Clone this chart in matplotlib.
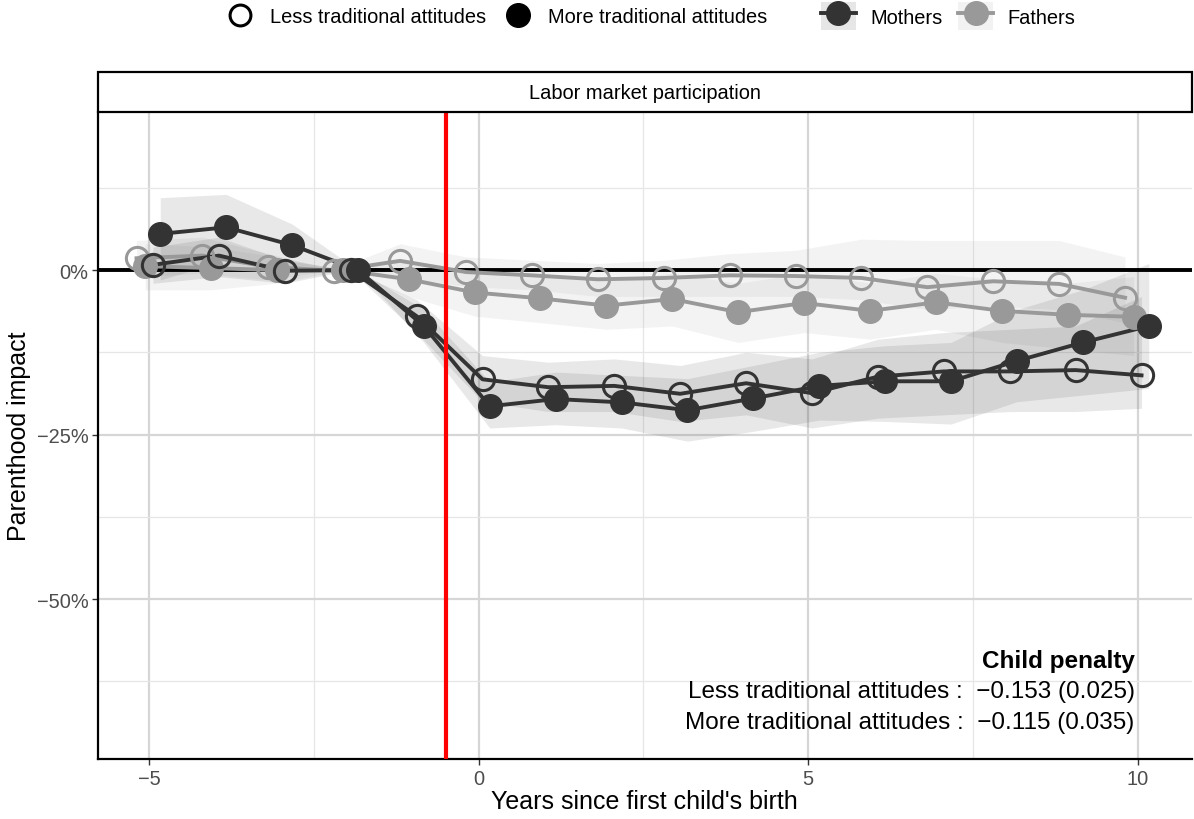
import numpy as np
import matplotlib.pyplot as plt
from matplotlib.lines import Line2D
from matplotlib.patches import Patch, Rectangle
from matplotlib.legend_handler import HandlerTuple
from matplotlib.ticker import FuncFormatter

plt.rcParams['font.family'] = ['Liberation Sans', 'DejaVu Sans']

# data (percent)
years = np.arange(-5, 11)

moth_less = [0.8, 2.2, -0.1, 0.0, -7.0, -16.6, -17.8, -17.6, -18.8, -17.2, -18.7, -16.2, -15.4, -15.4, -15.2, -16.0]
moth_less_lo = [-2.0, -1.0, -2.0, 0.0, -9.5, -20.0, -21.5, -21.5, -23.0, -22.0, -24.0, -22.5, -22.0, -21.5, -21.5, -21.0]
moth_less_hi = [3.5, 5.0, 1.5, 0.0, -4.5, -13.0, -14.0, -13.5, -14.5, -12.5, -13.5, -10.5, -9.5, -9.0, -8.5, -4.0]

moth_more = [5.5, 6.5, 3.8, 0.0, -8.5, -20.7, -19.6, -20.1, -21.3, -19.5, -17.6, -16.9, -16.9, -13.8, -11.0, -8.5]
moth_more_lo = [-1.5, 1.5, 0.5, 0.0, -11.0, -24.0, -23.5, -24.0, -26.0, -24.5, -22.8, -23.0, -23.4, -20.0, -19.0, -18.0]
moth_more_hi = [11.0, 11.5, 7.0, 0.0, -6.0, -17.0, -15.5, -16.0, -16.5, -14.5, -12.5, -11.5, -11.0, -6.0, -3.0, 1.0]

fath_less = [1.8, 2.2, 0.5, -0.1, 1.4, -0.3, -0.8, -1.4, -1.2, -0.8, -0.9, -1.2, -2.6, -1.7, -2.1, -4.2]
fath_less_lo = [-1.0, -0.5, -1.5, 0.0, -1.0, -2.5, -3.0, -4.0, -4.0, -4.0, -4.0, -4.5, -6.0, -5.5, -6.0, -8.0]
fath_less_hi = [4.5, 5.0, 2.5, 0.0, 4.0, 2.0, 1.5, 1.0, 1.5, 2.5, 3.0, 4.7, 4.5, 4.5, 4.5, 2.0]

fath_more = [0.6, 0.3, 0.0, 0.0, -1.4, -3.4, -4.3, -5.4, -4.4, -6.4, -5.0, -6.2, -4.9, -6.2, -6.8, -7.1]
fath_more_lo = [-3.0, -3.0, -2.0, 0.0, -4.0, -7.0, -8.0, -9.0, -8.5, -11.0, -9.5, -10.5, -9.0, -11.0, -12.0, -13.0]
fath_more_hi = [4.0, 3.5, 2.0, 0.0, 1.5, 0.0, -0.5, -1.5, -0.5, -2.0, -0.5, -2.0, -0.5, -1.5, -2.0, -1.0]

penalty_less = "Less traditional attitudes :  \u22120.153 (0.025)"
penalty_more = "More traditional attitudes :  \u22120.115 (0.035)"

c_moth = '#333333'
c_fath = '#999999'

fig = plt.figure(figsize=(11.94, 8.2), dpi=100)
ax = fig.add_axes([0.0821, 0.0732, 0.9159, 0.7888])

series = [
    (fath_less, fath_less_lo, fath_less_hi, -0.19, c_fath, False),
    (fath_more, fath_more_lo, fath_more_hi, -0.06, c_fath, True),
    (moth_less, moth_less_lo, moth_less_hi, 0.06, c_moth, False),
    (moth_more, moth_more_lo, moth_more_hi, 0.17, c_moth, True),
]

for y, lo, hi, off, col, filled in series:
    x = years + off
    ax.fill_between(x, np.array(lo) / 100, np.array(hi) / 100, color=col, alpha=0.11, lw=0, zorder=1)

ax.axhline(0, color='black', lw=2.8, zorder=2)

for y, lo, hi, off, col, filled in series:
    x = years + off
    y = np.array(y) / 100
    ax.plot(x, y, color=col, lw=2.8, zorder=3)
    if filled:
        ax.plot(x, y, 'o', color=col, ms=17, mec=col, zorder=4)
    else:
        ax.plot(x, y, 'o', mfc='none', mec=col, ms=16, mew=2.2, zorder=4)

ax.axvline(-0.5, color='red', lw=3, zorder=5)

ax.set_xlim(-5.774, 10.82)
ax.set_ylim(-0.743, 0.24)
ax.set_xticks([-5, 0, 5, 10])
ax.set_xticks([-2.5, 2.5, 7.5], minor=True)
ax.set_yticks([-0.5, -0.25, 0])
ax.set_yticks([-0.625, -0.375, -0.125, 0.125], minor=True)
ax.yaxis.set_major_formatter(FuncFormatter(lambda v, p: f"{v*100:.0f}%".replace('-', '\u2212')))
ax.xaxis.set_major_formatter(FuncFormatter(lambda v, p: f"{v:.0f}".replace('-', '\u2212')))
ax.grid(which='major', color='#d6d6d6', lw=1.6, zorder=0)
ax.grid(which='minor', color='#e6e6e6', lw=0.9, zorder=0)
ax.set_axisbelow(True)
ax.tick_params(which='major', length=4, color='#333333', labelsize=14.4, labelcolor='#4d4d4d',
               width=1, pad=3)
ax.tick_params(which='minor', length=0)
for s in ['top', 'right']:
    ax.spines[s].set_visible(False)
for s in ['left', 'bottom']:
    ax.spines[s].set_linewidth(1.6)
ax.set_xlabel("Years since first child's birth", fontsize=18, labelpad=1)
ax.set_ylabel("Parenthood impact", fontsize=18, labelpad=4)

# facet strip
strip = Rectangle((0.0821, 0.862), 0.9159, 0.0488, transform=fig.transFigure,
                  facecolor='white', edgecolor='black', lw=1.6)
fig.patches.append(strip)
fig.text(0.0821 + 0.9159 / 2, 0.862 + 0.0244, "Labor market participation",
         ha='center', va='center', fontsize=14.4)

# child penalty annotation
ax.text(0.948, 0.153, "Child penalty", transform=ax.transAxes, ha='right', va='center',
        fontsize=17.5, fontweight='bold')
ax.text(0.948, 0.105, penalty_less, transform=ax.transAxes, ha='right', va='center', fontsize=17.5)
ax.text(0.948, 0.057, penalty_more, transform=ax.transAxes, ha='right', va='center', fontsize=17.5)

# legends
h1 = [Line2D([], [], ls='none', marker='o', ms=15, mfc='none', mec='black', mew=2.2),
      Line2D([], [], ls='none', marker='o', ms=17, color='black')]
leg1 = fig.legend(h1, ["Less traditional attitudes", "More traditional attitudes"],
                  loc='center', bbox_to_anchor=(0.415, 0.979), ncol=2, frameon=False,
                  fontsize=14.4, handlelength=1.6, handletextpad=0.7, columnspacing=0.8)
h2 = [(Patch(facecolor='#e6e6e6', edgecolor='none'),
       Line2D([], [], color=c_moth, lw=2.8, marker='o', ms=17)),
      (Patch(facecolor='#f2f2f2', edgecolor='none'),
       Line2D([], [], color=c_fath, lw=2.8, marker='o', ms=17))]
leg2 = fig.legend(h2, ["Mothers", "Fathers"], loc='center', bbox_to_anchor=(0.794, 0.979),
                  ncol=2, frameon=False, fontsize=14.4, handlelength=1.75, handleheight=1.75,
                  handletextpad=0.7, columnspacing=0.8,
                  handler_map={tuple: HandlerTuple(ndivide=1, pad=0)})

fig.savefig('out.png', dpi=100)
